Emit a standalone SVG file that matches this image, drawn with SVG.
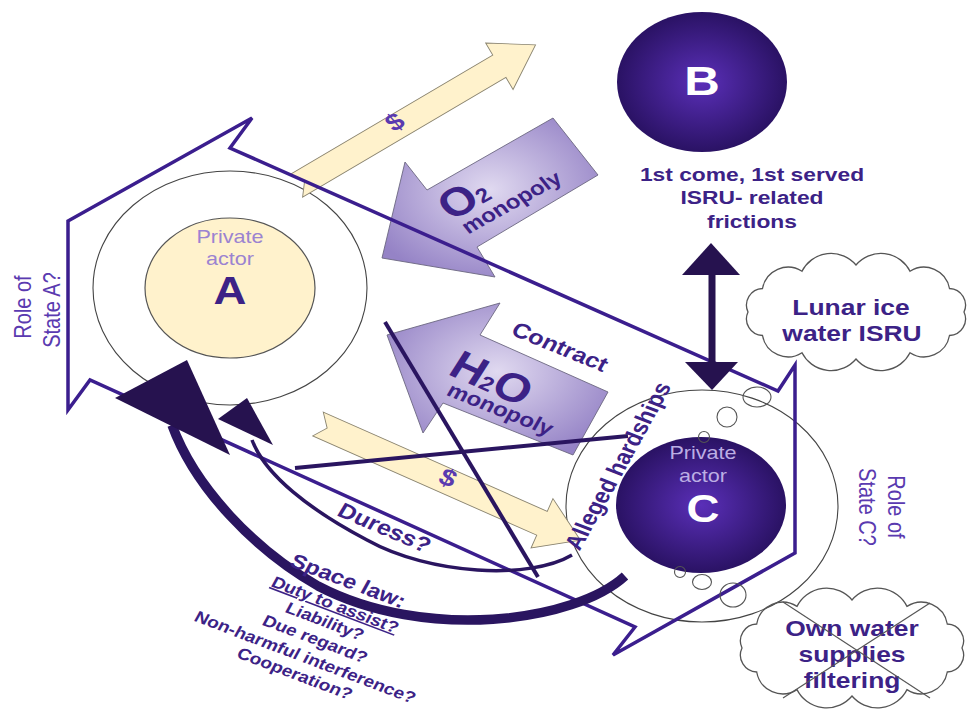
<svg xmlns="http://www.w3.org/2000/svg" width="976" height="715" viewBox="0 0 976 715">
<defs>
  <radialGradient id="gDark" cx="50%" cy="50%" r="50%">
    <stop offset="0" stop-color="#5a2fb8"/>
    <stop offset="1" stop-color="#2a1264"/>
  </radialGradient>
  <radialGradient id="gLav" cx="50%" cy="45%" r="60%">
    <stop offset="0" stop-color="#e0d9f0"/>
    <stop offset="1" stop-color="#9583c6"/>
  </radialGradient>
</defs>
<style>
  .t{font-family:"Liberation Sans",Arial,sans-serif;font-weight:bold;fill:#3c2286;text-anchor:middle}
  .r{font-weight:normal}
  .pa{fill:#9b83d1}
  .pc{fill:#bcaee4}
  .w{fill:#ffffff}
  .lp{fill:#5a3ab0}
  .ring{fill:none;stroke:#444;stroke-width:1.1}
  .cream{fill:#fff2cc;stroke:#8a8470;stroke-width:0.9}
  .lav{fill:url(#gLav);stroke:#6b6680;stroke-width:0.9}
  .dk{fill:#26124f}
  .dl{stroke:#2a1560;fill:none}
  .cloud{fill:none;stroke:#555;stroke-width:1.3}
  .bub{fill:none;stroke:#555;stroke-width:1.1}
</style>
<rect width="976" height="715" fill="#ffffff"/>

<g id="node-A">
  <ellipse class="ring" cx="230" cy="288" rx="137" ry="117"/>
  <ellipse cx="230" cy="288" rx="85" ry="70" fill="#fff2cc" stroke="#555" stroke-width="1.2"/>
  <text class="t r pa" font-size="18" transform="translate(230,243) scale(1.2,1)">Private</text>
  <text class="t r pa" font-size="18" transform="translate(230,265) scale(1.2,1)">actor</text>
  <text class="t" font-size="38" transform="translate(230,304) scale(1.2,1)">A</text>
</g>

<g id="node-C">
  <ellipse class="ring" cx="702" cy="506" rx="136" ry="116"/>
  <ellipse cx="701" cy="505" rx="85" ry="68" fill="url(#gDark)"/>
  <text class="t r pc" font-size="18" transform="translate(703,459) scale(1.2,1)">Private</text>
  <text class="t r pc" font-size="18" transform="translate(703,482) scale(1.2,1)">actor</text>
  <text class="t w" font-size="38" transform="translate(703,522) scale(1.2,1)">C</text>
</g>

<g id="connectors">
  <polygon id="money-up" class="cream" transform="translate(296,186) rotate(-30.5)" points="0,-13 236,-13 236,-27 278,0 236,27 236,13 0,13 10,0"/>
  <polygon id="money-down" class="cream" transform="translate(318,424) rotate(23.9)" points="0,-13 245,-13 245,-27 287,0 245,27 245,13 0,13 10,0"/>
  <polygon id="o2-arrow" class="lav" points="553,118 598,175 477,247 495,277 382,258 405,162 427,190"/>
  <polygon id="h2o-arrow" class="lav" points="608,392 573,455 443,403 423,433 387,335 500,303 480,335"/>
  <polygon id="state-outline" points="68,221 252,118 230,148 778,391 795,365 795,553 613,655 635,627 90,380 68,410" fill="none" stroke="#3b1e8e" stroke-width="3.5" stroke-linejoin="miter"/>
  <line class="dl" x1="385" y1="322" x2="538" y2="577" stroke-width="4"/>
  <line class="dl" x1="295" y1="468" x2="628" y2="436" stroke-width="4"/>
  <path class="dl" d="M625,576 C575,622 425,642 318,586 C255,550 195,488 172,425" stroke="#24124f" stroke-width="9.5"/>
  <path class="dl" d="M572,555 C530,580 430,575 367,540 C310,510 265,475 252,440" stroke="#1e1040" stroke-width="3.5"/>
  <polygon class="dk" points="187,360 115,398 230,455"/>
  <polygon class="dk" points="247,398 218,419 273,445"/>
  <g id="b-c-arrow" class="dk">
    <rect x="708.5" y="272" width="7" height="92"/>
    <polygon points="711,243 682,275 740,275"/>
    <polygon points="712,390 685,362 738,362"/>
  </g>
</g>

<g id="node-B">
  <ellipse cx="702" cy="82" rx="85" ry="70" fill="url(#gDark)"/>
  <text class="t w" font-size="41" transform="translate(702,95) scale(1.2,1)">B</text>
  <text class="t" font-size="19" transform="translate(752,181) scale(1.2,1)">1st come, 1st served</text>
  <text class="t" font-size="19" transform="translate(752,204) scale(1.2,1)">ISRU- related</text>
  <text class="t" font-size="19" transform="translate(752,228) scale(1.2,1)">frictions</text>
</g>

<g id="bubbles">
  <ellipse class="bub" cx="757" cy="397" rx="14" ry="10"/>
  <circle class="bub" cx="727" cy="417" r="10"/>
  <circle class="bub" cx="704" cy="437" r="5.5"/>
  <circle class="bub" cx="680" cy="572" r="5.5"/>
  <ellipse class="bub" cx="702" cy="582" rx="9.5" ry="7.5"/>
  <ellipse class="bub" cx="733" cy="595" rx="13" ry="12"/>
</g>

<g id="cloud-ice">
  <path class="cloud" d="M964,312 A16.6,16.6 0 0 1 949.5,335.5 A25.9,25.9 0 0 1 910,352.7 A32.6,32.6 0 0 1 856,359 A32.6,32.6 0 0 1 802,352.7 A25.9,25.9 0 0 1 762.5,335.5 A16.6,16.6 0 0 1 748,312 A16.6,16.6 0 0 1 762.5,288.5 A25.9,25.9 0 0 1 802,271.3 A32.6,32.6 0 0 1 856,265 A32.6,32.6 0 0 1 910,271.3 A25.9,25.9 0 0 1 949.5,288.5 A16.6,16.6 0 0 1 964,312 Z"/>
  <text class="t" font-size="22" transform="translate(851,315) scale(1.2,1)">Lunar ice</text>
  <text class="t" font-size="22" transform="translate(852,341) scale(1.2,1)">water ISRU</text>
</g>

<g id="cloud-own">
  <path class="cloud" d="M962,648 A16.9,16.9 0 0 1 947.3,672 A26.4,26.4 0 0 1 907,689.6 A33.2,33.2 0 0 1 852,696 A33.2,33.2 0 0 1 797,689.6 A26.4,26.4 0 0 1 756.7,672 A16.9,16.9 0 0 1 742,648 A16.9,16.9 0 0 1 756.7,624 A26.4,26.4 0 0 1 797,606.4 A33.2,33.2 0 0 1 852,600 A33.2,33.2 0 0 1 907,606.4 A26.4,26.4 0 0 1 947.3,624 A16.9,16.9 0 0 1 962,648 Z"/>
  <text class="t" font-size="22" transform="translate(852,636) scale(1.2,1)">Own water</text>
  <text class="t" font-size="22" transform="translate(852,662) scale(1.2,1)">supplies</text>
  <text class="t" font-size="22" transform="translate(852,688) scale(1.2,1)">filtering</text>
  <line x1="783" y1="602" x2="930" y2="698" stroke="#555" stroke-width="1.2"/>
  <line x1="930" y1="603" x2="783" y2="698" stroke="#555" stroke-width="1.2"/>
</g>

<g id="labels">
  <text class="t r lp" font-size="20" transform="translate(31,307) scale(1.2,1) rotate(-90)">Role of</text>
  <text class="t r lp" font-size="20" transform="translate(60,310) scale(1.2,1) rotate(-90)">State A?</text>
  <text class="t r lp" font-size="20" transform="translate(888,507) scale(1.2,1) rotate(90)">Role of</text>
  <text class="t r lp" font-size="20" transform="translate(859,507) scale(1.2,1) rotate(90)">State C?</text>
  <text class="t lp" font-size="24" y="8" transform="translate(395,122) scale(1.2,1) rotate(-35.8)">$</text>
  <text class="t lp" font-size="24" y="8" transform="translate(448,478) scale(1.2,1) rotate(24)">$</text>
  <text class="t" font-size="40" y="14" transform="translate(463,198) scale(1.2,1) rotate(-34)">O<tspan font-size="20">2</tspan></text>
  <text class="t" font-size="20" y="6" transform="translate(512,203) scale(1.2,1) rotate(-33.6)">monopoly</text>
  <text class="t" font-size="40" y="14" transform="translate(492,378) scale(1.2,1) rotate(28)">H<tspan font-size="20">2</tspan>O</text>
  <text class="t" font-size="20" y="6" transform="translate(500,410) scale(1.2,1) rotate(25.5)">monopoly</text>
  <text class="t" font-size="21" y="7" transform="translate(560,347) scale(1.2,1) rotate(26)">Contract</text>
  <text class="t" font-size="21" y="8" transform="translate(385,527) scale(1.2,1) rotate(27)">Duress?</text>
  <text class="t" font-size="21" y="7" transform="translate(618,466) scale(1.2,1) rotate(-65)">Alleged hardships</text>
  <g transform="translate(349,582) scale(1.2,1) rotate(24.5)">
    <text class="t" font-size="20" x="-1" y="6">Space law:</text>
    <text class="t" font-size="16" x="-1" y="31" text-decoration="underline">Duty to assist?</text>
    <text class="t" font-size="16" x="-2" y="49.5">Liability?</text>
    <text class="t" font-size="16" x="-2" y="69">Due regard?</text>
    <text class="t" font-size="16" x="-2" y="89">Non-harmful interference?</text>
    <text class="t" font-size="16" x="-3" y="107.5">Cooperation?</text>
  </g>
</g>
</svg>
